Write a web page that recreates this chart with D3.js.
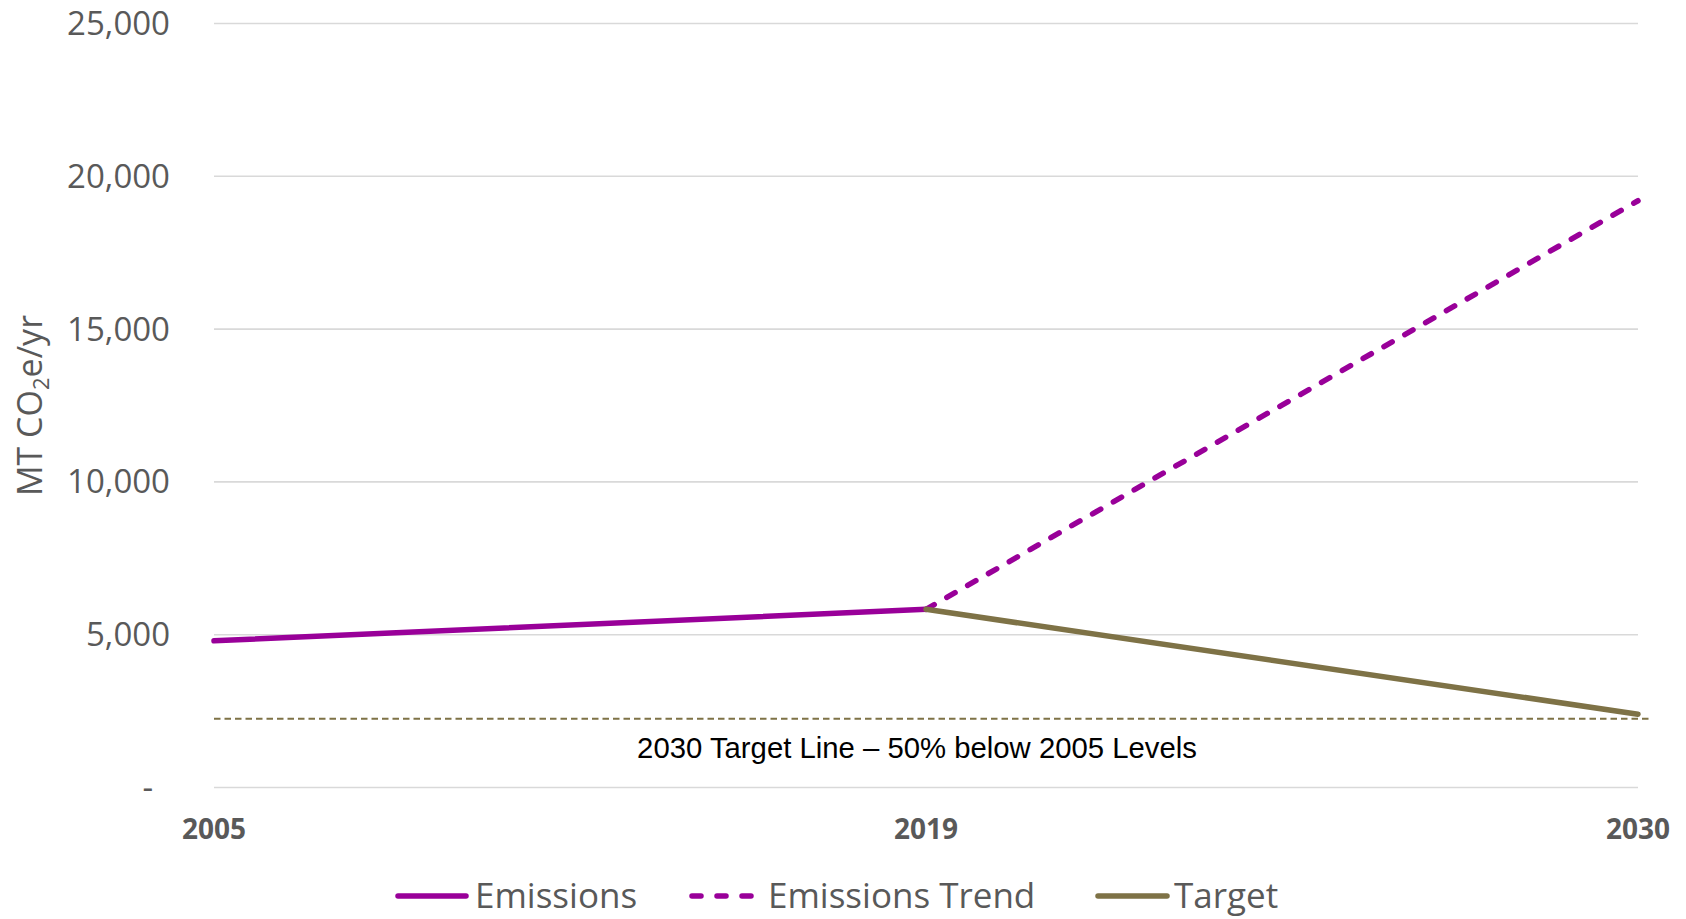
<!DOCTYPE html>
<html>
<head>
<meta charset="utf-8">
<script src="https://cdn.jsdelivr.net/npm/d3@7"></script>
<style>
  html, body { margin: 0; padding: 0; background: #ffffff; }
  svg { display: block; }
</style>
</head>
<body>
<svg id="chart" width="1686" height="919"></svg>
<script>
// Category labels along the x axis
const years = ["2005", "2019", "2030"];
// Series values, MT CO2e per year (null = no point)
const emissions = [4800, 5830, null];
const emissionsTrend = [null, 5830, 19200];
const target = [null, 5830, 2400];
// Horizontal reference: 2030 target level
const targetLineValue = 2250;
const targetLineLabel = "2030 Target Line \u2013 50% below 2005 Levels";
// Y axis ticks
const yTicks = [0, 5000, 10000, 15000, 20000, 25000];

const purple = "#990099";
const olive = "#7E7246";
const grey = "#595959";

const series = [
  { name: "Emissions", values: emissions, color: purple, dash: null },
  { name: "Emissions Trend", values: emissionsTrend, color: purple, dash: "9.5,14.5" },
  { name: "Target", values: target, color: olive, dash: null }
];

const svg = d3.select("#chart");
const plotLeft = 214, plotRight = 1638, plotTop = 23.5, plotBottom = 787.5;

const x = d3.scalePoint().domain(years).range([plotLeft, plotRight]);
const y = d3.scaleLinear().domain([0, 25000]).range([plotBottom, plotTop]);

// Gridlines
svg.append("g")
  .selectAll("line")
  .data(yTicks)
  .join("line")
  .attr("x1", plotLeft).attr("x2", plotRight)
  .attr("y1", d => y(d)).attr("y2", d => y(d))
  .attr("stroke", "#D9D9D9")
  .attr("stroke-width", 1.6);

// Y tick labels (accounting style: zero shown as a dash)
const fmt = d3.format(",");
svg.append("g")
  .selectAll("text")
  .data(yTicks)
  .join("text")
  .attr("x", d => d === 0 ? 153 : 170)
  .attr("y", d => y(d))
  .attr("dy", "0.35em")
  .attr("text-anchor", "end")
  .attr("font-family", "'Open Sans', sans-serif")
  .attr("font-size", 33)
  .attr("fill", grey)
  .text(d => d === 0 ? "-" : fmt(d));

// Y axis title
const yTitle = svg.append("text")
  .attr("transform", `translate(42, ${(plotTop + plotBottom) / 2}) rotate(-90)`)
  .attr("text-anchor", "middle")
  .attr("font-family", "'Open Sans', sans-serif")
  .attr("font-size", 34)
  .attr("fill", grey);
yTitle.append("tspan").text("MT CO");
yTitle.append("tspan").attr("font-size", 22).attr("dy", 7).text("2");
yTitle.append("tspan").attr("dy", -7).text("e/yr");

// X labels
svg.append("g")
  .selectAll("text")
  .data(years)
  .join("text")
  .attr("x", d => x(d))
  .attr("y", 839)
  .attr("text-anchor", "middle")
  .attr("font-family", "'Open Sans', sans-serif")
  .attr("font-weight", "bold")
  .attr("font-size", 28)
  .attr("fill", grey)
  .text(d => d);

// Target reference line with label
svg.append("line")
  .attr("x1", plotLeft).attr("x2", 1652)
  .attr("y1", y(targetLineValue)).attr("y2", y(targetLineValue))
  .attr("stroke", olive)
  .attr("stroke-width", 2)
  .attr("stroke-dasharray", "6.5,4");

svg.append("text")
  .attr("x", 917)
  .attr("y", 758)
  .attr("text-anchor", "middle")
  .attr("font-family", "'Liberation Sans', Arial, sans-serif")
  .attr("font-size", 29.3)
  .attr("fill", "#000000")
  .text(targetLineLabel);

// Series lines
const line = d3.line()
  .defined(d => d.v !== null)
  .x(d => x(d.year))
  .y(d => y(d.v));

svg.append("g")
  .selectAll("path")
  .data(series)
  .join("path")
  .attr("d", s => line(s.values.map((v, i) => ({ year: years[i], v }))))
  .attr("fill", "none")
  .attr("stroke", s => s.color)
  .attr("stroke-width", 5.5)
  .attr("stroke-linecap", "round")
  .attr("stroke-linejoin", "round")
  .attr("stroke-dasharray", s => s.dash);

// Legend
const legendItems = [
  { s: series[0], x0: 398, x1: 466, tx: 475 },
  { s: series[1], x0: 692, x1: 755, tx: 768 },
  { s: series[2], x0: 1098, x1: 1167, tx: 1174 }
];
const ly = 896;
const lg = svg.append("g");
legendItems.forEach(it => {
  lg.append("line")
    .attr("x1", it.x0).attr("x2", it.x1)
    .attr("y1", ly).attr("y2", ly)
    .attr("stroke", it.s.color)
    .attr("stroke-width", 5.5)
    .attr("stroke-linecap", "round")
    .attr("stroke-dasharray", it.s.dash ? "9,16" : null);
  lg.append("text")
    .attr("x", it.tx)
    .attr("y", ly)
    .attr("dy", "0.35em")
    .attr("font-family", "'Open Sans', sans-serif")
    .attr("font-size", 35)
    .attr("fill", grey)
    .text(it.s.name);
});
</script>
</body>
</html>
